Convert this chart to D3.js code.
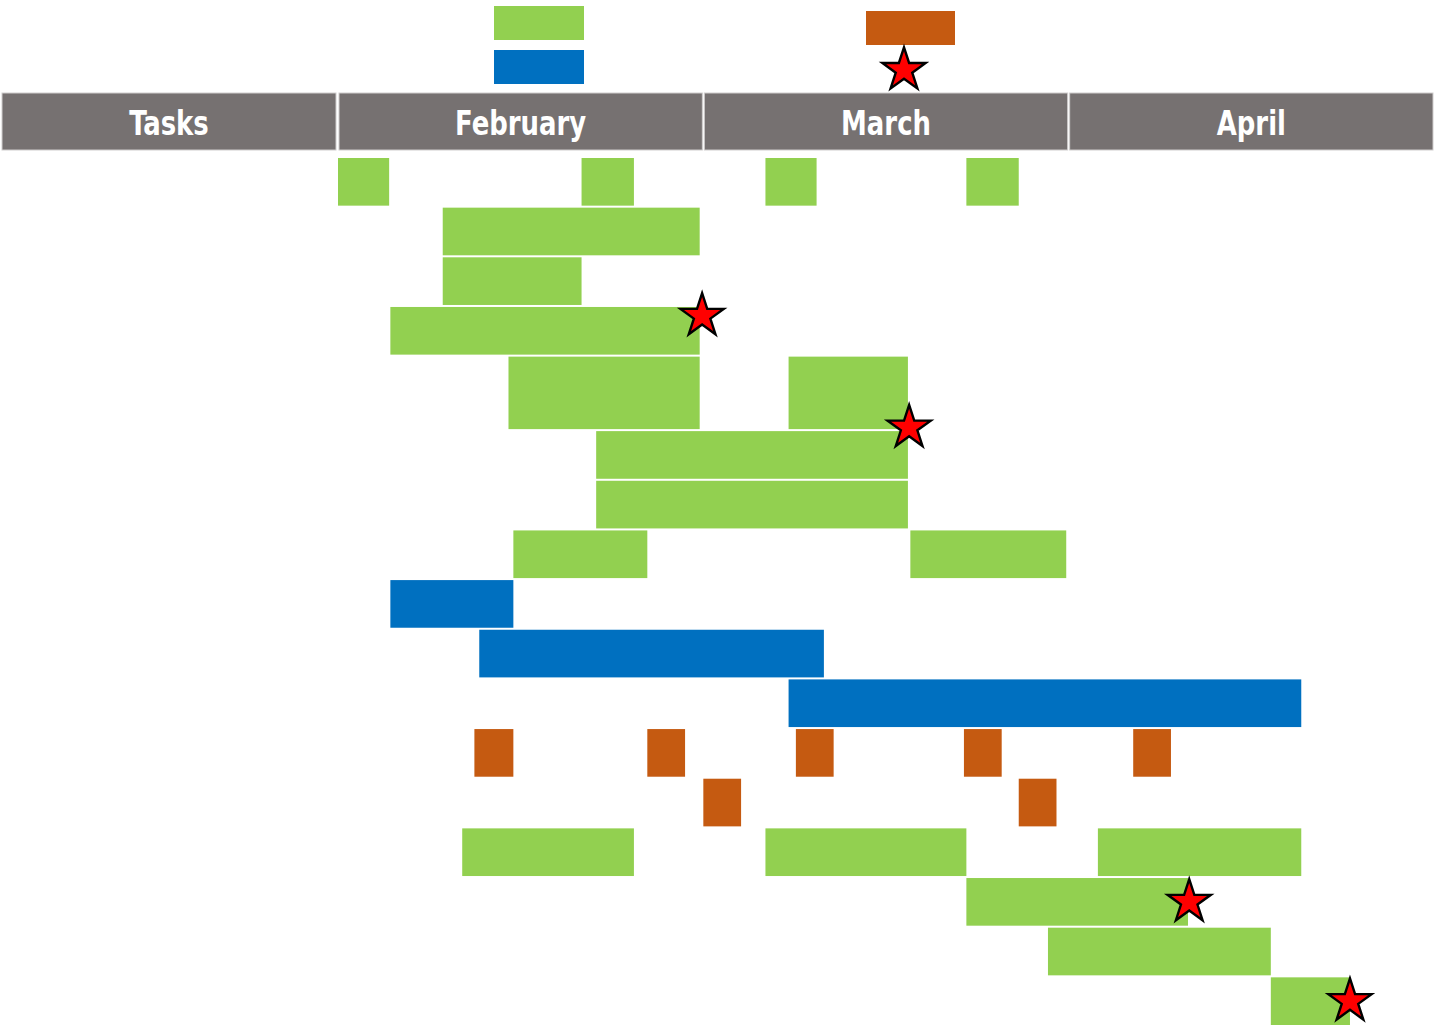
<!DOCTYPE html>
<html>
<head>
<meta charset="utf-8">
<script src="https://cdn.jsdelivr.net/npm/d3@7"></script>
<style>
  html, body { margin: 0; padding: 0; background: #fff; }
  svg { display: block; }
</style>
</head>
<body>
<div id="chart"></div>
<script>
// header texts
const firstColumn = "Tasks";
const months = ["February", "March", "April"];
const daysPerMonth = 30;

// row heights in row units (row 5 is a taller row)
const rowSpan = [1, 1, 1, 1, 1.5, 1, 1, 1, 1, 1, 1, 1, 1, 1, 1, 1, 1];

// bars: row index, start day, end day, kind
const barRow   = [0, 0, 0, 0, 1, 2, 3, 4, 4, 5, 6, 7, 7, 8, 9, 10,
                  11, 11, 11, 11, 11, 12, 12, 13, 13, 13, 14, 15, 16];
const barStart = [0, 20.0, 35.1, 51.6, 8.6, 8.6, 4.3, 14.0, 37.0, 21.2, 21.2, 14.4, 47.0, 4.3, 11.6, 37.0,
                  11.2, 25.4, 37.6, 51.4, 65.3, 30.0, 55.9, 10.2, 35.1, 62.4, 51.6, 58.3, 76.6];
const barEnd   = [4.2, 24.3, 39.3, 55.9, 29.7, 20.0, 29.7, 29.7, 46.8, 46.8, 46.8, 25.4, 59.8, 14.4, 39.9, 79.1,
                  14.4, 28.5, 40.7, 54.5, 68.4, 33.1, 59.0, 24.3, 51.6, 79.1, 69.8, 76.6, 83.1];
const barKind  = ["task", "task", "task", "task", "task", "task", "task", "task", "task", "task", "task", "task", "task",
                  "phase", "phase", "phase",
                  "meeting", "meeting", "meeting", "meeting", "meeting", "meeting", "meeting",
                  "task", "task", "task", "task", "task", "task"];

// milestones: day and vertical position in row units
const milestoneDay = [29.9, 46.9, 69.9, 83.1];
const milestoneRow = [3.2, 5.45, 15.0, 17.0];

const kinds = ["task", "phase", "meeting"];
const kindColor = { task: "#92D050", phase: "#0070C0", meeting: "#C55A11" };

const W = 1439, H = 1032;
const svg = d3.select("#chart").append("svg")
    .attr("width", W)
    .attr("height", H);

// x scale in days
const x = d3.scaleLinear()
    .domain([0, months.length * daysPerMonth])
    .range([338, 1434]);

// y scale in row units
const rowTop = [];
let acc = 0;
rowSpan.forEach(s => { rowTop.push(acc); acc += s; });
const y = d3.scaleLinear()
    .domain([0, acc])
    .range([157, 1026]);

// header
const headerTop = 93, headerBottom = 150;
const header = svg.append("g");
const cells = [{ label: firstColumn, x0: 2, x1: 336 }]
    .concat(months.map((m, i) => ({
        label: m,
        x0: x(i * daysPerMonth) + 1,
        x1: x((i + 1) * daysPerMonth) - 1
    })));

header.selectAll("rect")
    .data(cells)
    .join("rect")
    .attr("x", d => d.x0)
    .attr("y", headerTop)
    .attr("width", d => d.x1 - d.x0)
    .attr("height", headerBottom - headerTop)
    .attr("fill", "#767171")
    .attr("stroke", "#cfcdcd")
    .attr("stroke-width", 1);

header.selectAll("text")
    .data(cells)
    .join("text")
    .attr("transform", d => `translate(${(d.x0 + d.x1) / 2},135) scale(0.93,1.06)`)
    .attr("text-anchor", "middle")
    .attr("fill", "#fff")
    .attr("font-family", "'Liberation Sans Narrow', 'DejaVu Sans Condensed', 'Open Sans', sans-serif")
    .attr("font-weight", "bold")
    .attr("font-size", "31px")
    .text(d => d.label);

// bars
const bars = barRow.map((r, i) => ({ row: r, start: barStart[i], end: barEnd[i], kind: barKind[i] }));

svg.append("g")
    .selectAll("rect")
    .data(bars)
    .join("rect")
    .attr("x", d => x(d.start))
    .attr("y", d => y(rowTop[d.row]) + 1)
    .attr("width", d => x(d.end) - x(d.start))
    .attr("height", d => y(rowTop[d.row] + rowSpan[d.row]) - y(rowTop[d.row]) - 2)
    .attr("fill", d => kindColor[d.kind]);

// milestone stars
const star = d3.symbol().type(d3.symbolStar).size(580);

svg.append("g")
    .selectAll("path")
    .data(milestoneDay.map((d, i) => ({ day: d, row: milestoneRow[i] })))
    .join("path")
    .attr("transform", d => `translate(${x(d.day)},${y(d.row)})`)
    .attr("d", star)
    .attr("fill", "#FF0000")
    .attr("stroke", "#000")
    .attr("stroke-width", 2.4)
    .attr("stroke-linejoin", "miter");

// legend (no text in the original)
const legend = svg.append("g");
legend.append("rect").attr("x", 494).attr("y", 6).attr("width", 90).attr("height", 34).attr("fill", kindColor[kinds[0]]);
legend.append("rect").attr("x", 494).attr("y", 50).attr("width", 90).attr("height", 34).attr("fill", kindColor[kinds[1]]);
legend.append("rect").attr("x", 866).attr("y", 11).attr("width", 89).attr("height", 34).attr("fill", kindColor[kinds[2]]);
legend.append("path")
    .attr("transform", "translate(904,70)")
    .attr("d", star)
    .attr("fill", "#FF0000")
    .attr("stroke", "#000")
    .attr("stroke-width", 2.4);
</script>
</body>
</html>
